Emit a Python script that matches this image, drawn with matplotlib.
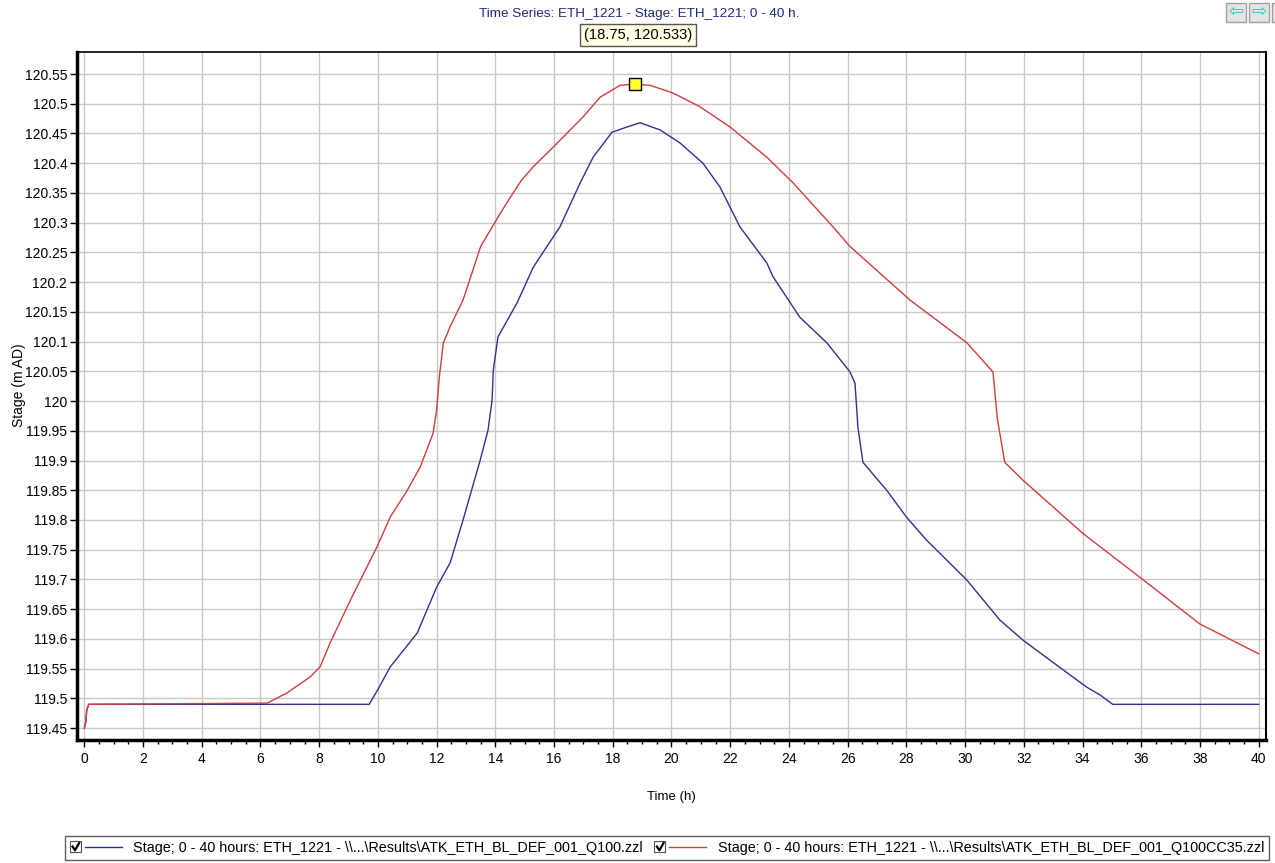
import matplotlib
matplotlib.use('Agg')
import matplotlib.pyplot as plt
from matplotlib.lines import Line2D
from matplotlib.patches import Rectangle
from matplotlib.legend_handler import HandlerBase
from matplotlib.ticker import MultipleLocator

plt.rcParams['font.family'] = ['Liberation Sans', 'DejaVu Sans']

# Q100 baseline run (blue)
t_base = [0, 0.05, 0.08, 0.15, 9.70, 10.0, 10.42, 11.34, 12.0, 12.46, 12.9, 13.48,
          13.75, 13.89, 13.93, 14.09, 14.74, 15.29, 16.2, 16.89, 17.33, 17.97, 18.49,
          18.93, 19.61, 20.29, 21.07, 21.65, 22.33, 23.25, 23.46, 24.37, 25.29, 26.08,
          26.25, 26.35, 26.52, 27.33, 28.0, 28.69, 30.06, 31.18, 31.97, 33.2, 34.14,
          34.59, 35.03, 40.0]
s_base = [119.45, 119.46, 119.48, 119.49, 119.49, 119.515, 119.553, 119.61, 119.687,
          119.728, 119.80, 119.90, 119.951, 120.002, 120.052, 120.108, 120.165, 120.225,
          120.293, 120.367, 120.41, 120.452, 120.461, 120.468, 120.456, 120.434, 120.40,
          120.36, 120.293, 120.232, 120.209, 120.141, 120.098, 120.049, 120.03, 119.956,
          119.897, 119.85, 119.805, 119.766, 119.699, 119.632, 119.598, 119.553, 119.519,
          119.506, 119.49, 119.49]

# Q100CC35 climate change run (red)
t_cc = [0, 0.05, 0.08, 0.15, 6.23, 6.9, 7.69, 8.03, 8.37, 9.06, 9.97, 10.42, 11.0,
        11.44, 11.88, 12.0, 12.09, 12.23, 12.46, 12.9, 13.5, 14.16, 14.54, 14.9, 15.29,
        15.97, 16.99, 17.57, 18.25, 18.75, 19.27, 20.05, 20.97, 21.99, 23.25, 24.14,
        25.5, 26.08, 28.12, 30.06, 30.95, 31.1, 31.35, 31.97, 34.0, 34.6, 36.05, 38.0,
        40.0]
s_cc = [119.45, 119.46, 119.48, 119.49, 119.492, 119.509, 119.536, 119.553, 119.593,
        119.665, 119.755, 119.805, 119.85, 119.889, 119.946, 119.985, 120.04, 120.098,
        120.125, 120.17, 120.26, 120.315, 120.345, 120.372, 120.394, 120.427, 120.478,
        120.511, 120.531, 120.533, 120.531, 120.518, 120.495, 120.461, 120.41, 120.367,
        120.293, 120.26, 120.17, 120.098, 120.049, 119.97, 119.897, 119.867, 119.778,
        119.755, 119.70, 119.625, 119.575]

peak = (18.75, 120.533)

label_base = 'Stage; 0 - 40 hours: ETH_1221 - \\\\...\\Results\\ATK_ETH_BL_DEF_001_Q100.zzl'
label_cc = 'Stage; 0 - 40 hours: ETH_1221 - \\\\...\\Results\\ATK_ETH_BL_DEF_001_Q100CC35.zzl'


class CheckLineHandler(HandlerBase):
    # checkbox followed by a short line sample
    def create_artists(self, legend, orig_handle, xdescent, ydescent, width, height,
                       fontsize, trans):
        x0 = -xdescent
        y = height / 2 - ydescent
        bs = 8
        box = Rectangle((x0, y - bs / 2), bs, bs, fc='white', ec='#505050', lw=0.8,
                        transform=trans)
        tick = Line2D([x0 + 1.8, x0 + 3.6, x0 + 6.6], [y + 0.3, y - 2.4, y + 2.8],
                      color='black', lw=1.6, transform=trans)
        line = Line2D([x0 + bs + 2.5, x0 + width], [y, y], color=orig_handle.get_color(),
                      lw=1.0, transform=trans)
        return [box, tick, line]


W, H = 1275, 863
fig = plt.figure(figsize=(W / 100, H / 100), dpi=100)
ax = fig.add_axes([77 / W, 1 - 740 / H, (1266 - 77) / W, (740 - 52) / H])

blue = '#2e3192'
red = '#d23c3c'
lb, = ax.plot(t_base, s_base, color=blue, lw=1.0)
lr, = ax.plot(t_cc, s_cc, color=red, lw=1.0)
ax.plot([peak[0]], [peak[1]], marker='s', ms=9, mfc='#ffff33', mec='black', mew=1, zorder=5)

ax.set_xlim(-0.25, 40.25)
ax.set_ylim(119.43, 120.587)
ax.xaxis.set_major_locator(MultipleLocator(2))
ax.xaxis.set_minor_locator(MultipleLocator(0.5))
ax.set_yticks([119.45 + 0.05 * i for i in range(23)])
ax.set_yticklabels(['%g' % round(119.45 + 0.05 * i, 2) for i in range(23)])
ax.grid(True, color='#c8c8c8', lw=1)
ax.set_axisbelow(True)
ax.tick_params(labelsize=10, length=5, width=1)
ax.tick_params(axis='y', pad=2)
ax.tick_params(which='minor', length=3, width=1)

ax.spines['left'].set_linewidth(2.5)
ax.spines['bottom'].set_linewidth(2.5)
ax.spines['top'].set_linewidth(1.2)
ax.spines['right'].set_linewidth(1.5)

ax.set_xlabel('Time (h)', fontsize=9.5)
ax.xaxis.set_label_coords(0.5, -0.074)
ax.set_ylabel('Stage (m AD)', fontsize=10)
ax.yaxis.set_label_coords(-0.043, 0.516)

fig.text(639 / W, 1 - 14 / H, 'Time Series: ETH_1221 - Stage: ETH_1221; 0 - 40 h.',
         ha='center', va='center', fontsize=9.7, color='#1f2a7a')

# tooltip at the picked point
fig.text(638 / W, 1 - 35 / H, '(%g, %g)' % peak, ha='center', va='center', fontsize=10.6,
         bbox=dict(boxstyle='square,pad=0.25', fc='#ffffe1', ec='#555555', lw=1), zorder=10)

# navigation buttons top right
for i, arrow in enumerate(['\u21e6', '\u21e8']):
    x0 = 1226 + i * 23
    fig.patches.append(Rectangle((x0 / W, 1 - 22 / H), 20 / W, 19 / H, transform=fig.transFigure,
                                 fc='#e4e4e4', ec='#a0a0a0', lw=1))
    fig.text((x0 + 10) / W, 1 - 12 / H, arrow, ha='center', va='center', fontsize=13,
             color='#20c8d8', family='DejaVu Sans')
fig.patches.append(Rectangle((1272 / W, 1 - 22 / H), 10 / W, 19 / H, transform=fig.transFigure,
                             fc='#e4e4e4', ec='#a0a0a0', lw=1))

leg = fig.legend([lb, lr], [label_base, label_cc], loc='lower center', ncol=2,
                 bbox_to_anchor=(667 / W, 3 / H), fontsize=10.35, frameon=True, fancybox=False,
                 edgecolor='#333333', handlelength=3.6, handletextpad=0.8, columnspacing=0.8,
                 borderaxespad=0, borderpad=0.35,
                 handler_map={Line2D: CheckLineHandler()})
leg.get_frame().set_linewidth(1)

fig.savefig('out.png', dpi=100)
